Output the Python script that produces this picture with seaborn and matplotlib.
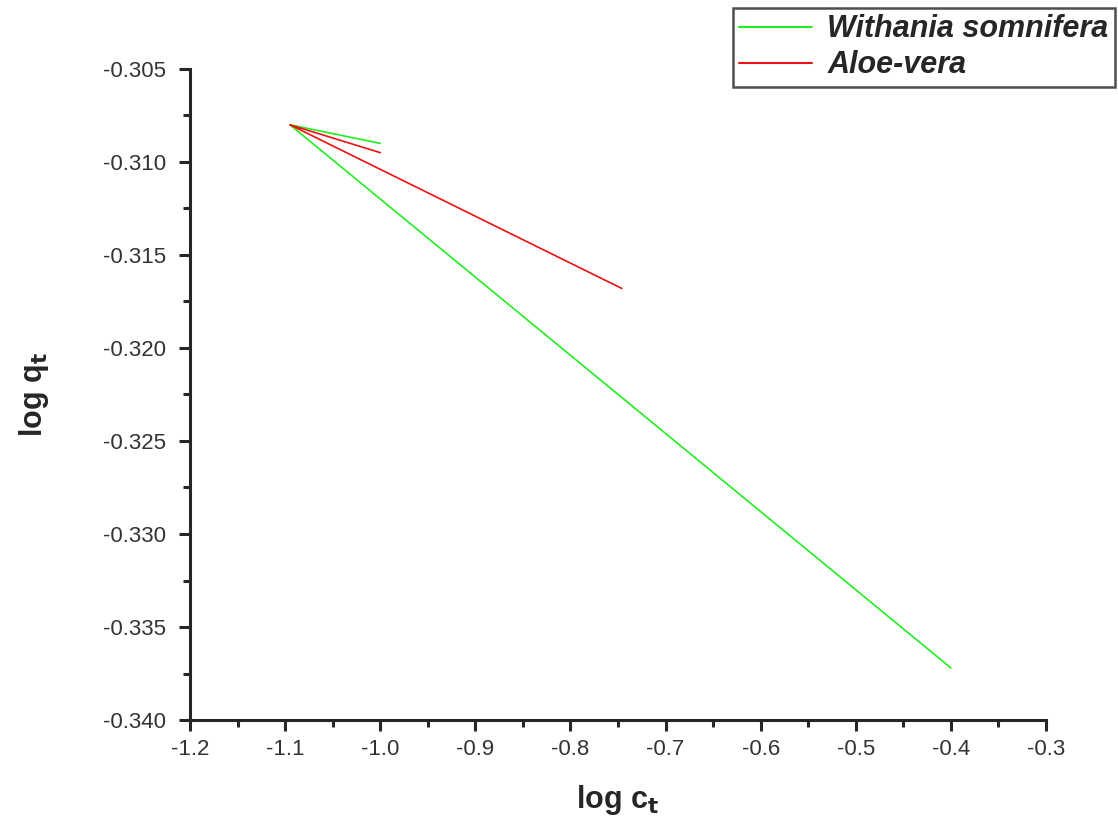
import matplotlib
matplotlib.use("Agg")
import matplotlib.pyplot as plt
from matplotlib.ticker import MultipleLocator, FormatStrFormatter
from matplotlib.lines import Line2D
import seaborn as sns
import pandas as pd

# Freundlich-type plot: log q_t against log c_t for the two adsorbents
withania_x = [-1.0, -1.095, -0.4]
withania_y = [-0.309, -0.308, -0.3372]
aloe_x = [-1.0, -1.095, -0.746]
aloe_y = [-0.3095, -0.308, -0.3168]

series_names = ["Withania somnifera", "Aloe-vera"]
series_colors = ["#22ee22", "#ee1111"]

df = pd.concat([
    pd.DataFrame({"x": withania_x, "y": withania_y, "series": series_names[0]}),
    pd.DataFrame({"x": aloe_x, "y": aloe_y, "series": series_names[1]}),
])

sns.set_style("ticks")
plt.rcParams["font.family"] = ["Liberation Sans", "DejaVu Sans"]

fig = plt.figure(figsize=(11.18, 8.21), dpi=100)
ax = fig.add_axes([0.170, 0.123, 0.7656, 0.793])

sns.lineplot(data=df, x="x", y="y", hue="series", sort=False, estimator=None,
             palette=dict(zip(series_names, series_colors)),
             linewidth=1.2, ax=ax, legend=False)

ax.set_xlim(-1.2, -0.3)
ax.set_ylim(-0.340, -0.305)
ax.xaxis.set_major_locator(MultipleLocator(0.1))
ax.xaxis.set_minor_locator(MultipleLocator(0.05))
ax.yaxis.set_major_locator(MultipleLocator(0.005))
ax.yaxis.set_minor_locator(MultipleLocator(0.0025))
ax.xaxis.set_major_formatter(FormatStrFormatter("%.1f"))
ax.yaxis.set_major_formatter(FormatStrFormatter("%.3f"))

for side in ("top", "right"):
    ax.spines[side].set_visible(False)
for side in ("left", "bottom"):
    ax.spines[side].set_linewidth(2.2)
ax.tick_params(which="major", direction="out", length=8, width=2.2,
               labelsize=16, labelcolor="#333333")
ax.tick_params(axis="y", which="major", pad=9)
ax.tick_params(axis="x", which="major", pad=6)
ax.tick_params(which="minor", direction="out", length=5, width=2.2)

ax.set_xlabel("log c$_\\mathbf{t}$", fontsize=22, fontweight="bold", labelpad=16)
ax.set_ylabel("log q$_\\mathbf{t}$", fontsize=22, fontweight="bold", labelpad=38)

handles = [Line2D([], [], color=c, lw=1.5) for c in series_colors]
leg = fig.legend(handles, series_names,
                 loc="upper right", bbox_to_anchor=(0.997, 0.990),
                 frameon=True, fancybox=False, edgecolor="#222222",
                 prop={"size": 22, "weight": "bold", "style": "italic"},
                 handlelength=2.4, borderpad=0.2, labelspacing=0.2,
                 handletextpad=0.5, borderaxespad=0)
leg.get_frame().set_linewidth(1.8)

fig.savefig("out.png", dpi=100, facecolor="white")
